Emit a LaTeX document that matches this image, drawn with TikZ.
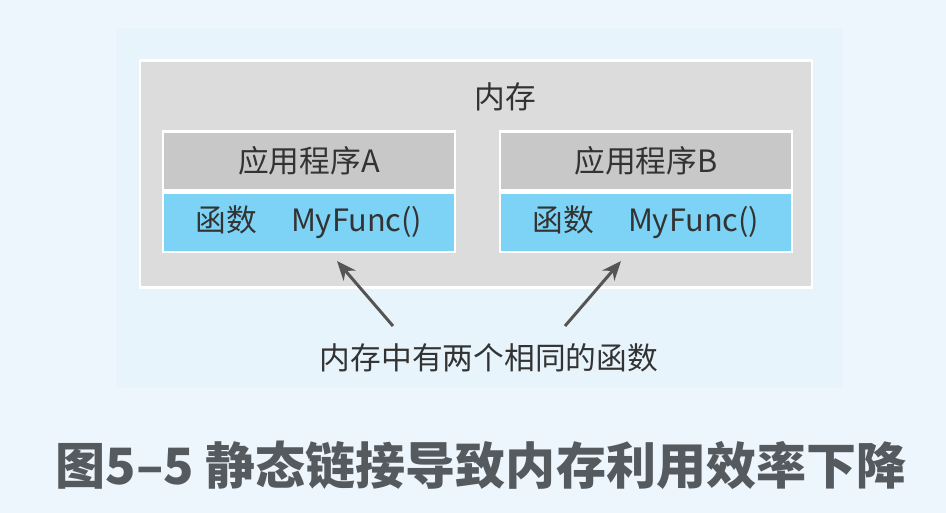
\documentclass[tikz,border=0pt]{standalone}
\usepackage{fontspec}
\setmainfont{Noto Sans CJK SC}
\usepackage{xcolor}
\usepackage{tikz}
\usetikzlibrary{arrows.meta, positioning, calc}

\definecolor{pagebg}{HTML}{EEF6FD}
\definecolor{panelbg}{HTML}{E8F4FB}
\definecolor{membg}{HTML}{DCDCDC}
\definecolor{headbg}{HTML}{C8C8C8}
\definecolor{funcbg}{HTML}{7DD3F5}
\definecolor{inktext}{HTML}{333333}
\definecolor{arrowgray}{HTML}{555555}
\definecolor{captiongray}{HTML}{555A5E}

\begin{document}
\begin{tikzpicture}[
    x=0.02cm, y=-0.02cm,
    >=Stealth,
    membox/.style={rectangle, draw=white, line width=1.2pt, fill=membg,
                   minimum width=13.44cm, minimum height=4.54cm, inner sep=0pt},
    apphead/.style={rectangle, draw=white, line width=1.2pt, fill=headbg,
                    minimum width=5.84cm, minimum height=1.18cm, inner sep=0pt,
                    font=\fontsize{17.5}{20}\selectfont, text=inktext},
    appfunc/.style={rectangle, draw=white, line width=1.2pt, fill=funcbg,
                    minimum width=5.84cm, minimum height=1.18cm, inner sep=0pt,
                    font=\fontsize{17.5}{20}\selectfont, text=inktext},
    plain/.style={font=\fontsize{17.5}{20}\selectfont, text=inktext, inner sep=1pt},
    pointer/.style={->, line width=1.7pt, draw=arrowgray,
                    arrows={-Stealth[length=11pt, width=9pt]}}
]
% page and panel
\fill[pagebg] (0,0) rectangle (946,513);
\fill[panelbg] (116,28) rectangle (843,388);

% memory
\node[membox] (mem) at (476,174) {};
\node[plain] (memtitle) at (505,97) {内存};

% application A
\node[apphead] (headA) at (309,161) {应用程序A};
\node[appfunc, below=0pt of headA] (funcA) {函数\hspace{1.1em}MyFunc()};

% application B
\node[apphead] (headB) at (646,161) {应用程序B};
\node[appfunc, below=0pt of headB] (funcB) {函数\hspace{1.1em}MyFunc()};

% note and pointers
\node[plain] (note) at (489,358) {内存中有两个相同的函数};
\coordinate (tailA) at (393,326);
\coordinate (tipA) at (337,261);
\coordinate (tailB) at (565,326);
\coordinate (tipB) at (621,261);
\draw[pointer] (tailA) -- (tipA);
\draw[pointer] (tailB) -- (tipB);

% caption
\node[font=\fontsize{28.5}{32}\selectfont\bfseries, text=captiongray] (caption)
    at (481,465) {图5–5 静态链接导致内存利用效率下降};
\end{tikzpicture}
\end{document}
